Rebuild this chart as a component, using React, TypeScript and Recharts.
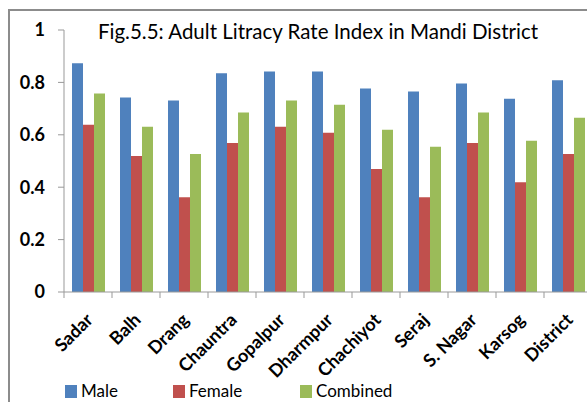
import { BarChart, Bar, XAxis, YAxis, Legend } from 'recharts';

const blocks = ['Sadar', 'Balh', 'Drang', 'Chauntra', 'Gopalpur', 'Dharmpur', 'Chachiyot', 'Seraj', 'S. Nagar', 'Karsog', 'District'];
const male = [0.873, 0.742, 0.731, 0.835, 0.842, 0.842, 0.777, 0.765, 0.796, 0.738, 0.808];
const female = [0.638, 0.519, 0.362, 0.569, 0.631, 0.608, 0.469, 0.362, 0.569, 0.419, 0.527];
const combined = [0.758, 0.631, 0.527, 0.685, 0.731, 0.715, 0.619, 0.554, 0.685, 0.577, 0.665];
const yTicks = [0, 0.2, 0.4, 0.6, 0.8, 1];

const data = blocks.map((name, i) => ({
  name,
  male: male[i],
  female: female[i],
  combined: combined[i],
}));

const FONT = 'Lato, "Open Sans", sans-serif';

// category label rotated, plus a tick mark on the left edge of each band
const XTick = ({ x, y, payload }: any) => (
  <g>
    <line x1={x - 24} y1={y - 8} x2={x - 24} y2={y - 2} stroke="#999" />
    <g transform={`translate(${x + 6},${y + 21})`}>
      <text transform="rotate(-45)" textAnchor="end" fontFamily={FONT} fontWeight={700} fontSize={18} fill="#000">
        {payload.value}
      </text>
    </g>
  </g>
);

const legendItems = [
  { label: 'Male', color: '#4F81BD', width: 108 },
  { label: 'Female', color: '#C0504D', width: 127 },
  { label: 'Combined', color: '#9BBB59', width: 120 },
];

const CustomLegend = () => (
  <div style={{ display: 'flex', fontFamily: FONT, fontSize: 17, color: '#000', lineHeight: '18px' }}>
    {legendItems.map((it) => (
      <div key={it.label} style={{ display: 'flex', alignItems: 'center', gap: 4, width: it.width }}>
        <span style={{ width: 12, height: 13, background: it.color, display: 'inline-block' }} />
        <span>{it.label}</span>
      </div>
    ))}
  </div>
);

export default function App() {
  return (
    <div style={{ position: 'fixed', left: 0, top: 0, width: 587, height: 402, overflow: 'hidden', background: '#fff' }}>
      <div
        style={{
          position: 'absolute',
          left: 8,
          top: 9,
          width: 620,
          height: 420,
          borderLeft: '2px solid #8c8c8c',
          borderTop: '2px solid #8c8c8c',
        }}
      />
      <div
        style={{
          position: 'absolute',
          left: 85,
          top: 19,
          width: 466,
          textAlign: 'center',
          fontFamily: FONT,
          fontSize: 20.5,
          color: '#000',
          whiteSpace: 'nowrap',
          zIndex: 2,
        }}
      >
        Fig.5.5: Adult Litracy Rate Index in Mandi District
      </div>
      <div style={{ position: 'absolute', left: 0, top: 0 }}>
        <BarChart
          width={600}
          height={402}
          data={data}
          margin={{ top: 30, right: 8, left: 4, bottom: 12 }}
          barCategoryGap={8}
          barGap={0}
        >
          <YAxis
            width={60}
            domain={[0, 1]}
            ticks={yTicks}
            tickFormatter={(v: number) => String(v)}
            axisLine={{ stroke: '#999' }}
            tickLine={{ stroke: '#999' }}
            tickSize={6}
            tick={{ fontFamily: FONT, fontWeight: 700, fontSize: 18, fill: '#000' }}
            tickMargin={13}
          />
          <XAxis
            dataKey="name"
            height={80}
            interval={0}
            axisLine={{ stroke: '#999' }}
            tickLine={false}
            tick={<XTick />}
          />
          <Legend
            verticalAlign="bottom"
            content={<CustomLegend />}
            wrapperStyle={{ left: 65, bottom: 2, width: 'auto', height: 18 }}
          />
          <Bar dataKey="male" name="Male" fill="#4F81BD" isAnimationActive={false} />
          <Bar dataKey="female" name="Female" fill="#C0504D" isAnimationActive={false} />
          <Bar dataKey="combined" name="Combined" fill="#9BBB59" isAnimationActive={false} />
        </BarChart>
      </div>
    </div>
  );
}
